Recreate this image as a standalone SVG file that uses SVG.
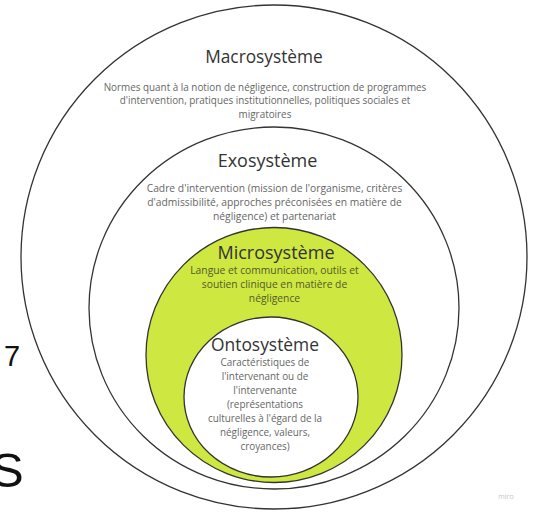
<svg xmlns="http://www.w3.org/2000/svg" width="541" height="512" viewBox="0 0 541 512">
<style>
.ring{fill:#ffffff;stroke:#333333;stroke-width:1.3}
.green{fill:#cee741;stroke:#333333;stroke-width:1.3}
.title{font-family:"Open Sans","DejaVu Sans",sans-serif;fill:#333333;text-anchor:middle}
.body{font-family:"Open Sans","DejaVu Sans",sans-serif;fill:#666666;font-size:9.9px;text-anchor:middle}
.ebody{font-family:"Open Sans","DejaVu Sans",sans-serif;fill:#666666;font-size:10.3px;text-anchor:middle}
.mbody{font-family:"Open Sans","DejaVu Sans",sans-serif;fill:#555a2a;font-size:10.3px;text-anchor:middle}
.bg{font-family:"Liberation Sans",Arial,sans-serif;fill:#111111}
</style>
<rect width="541" height="512" fill="#ffffff"/>
<text class="bg" x="4" y="366" font-size="29">7</text>
<text class="bg" x="-9" y="487" font-size="49">S</text>
<g id="macrosysteme">
<ellipse class="ring" cx="274" cy="257" rx="253" ry="252"/>
<text class="title" x="264" y="63" font-size="17.3">Macrosystème</text>
<text class="body" x="265" y="90.5">Normes quant à la notion de négligence, construction de programmes</text>
<text class="body" x="265" y="104">d'intervention, pratiques institutionnelles, politiques sociales et</text>
<text class="body" x="265" y="117.5">migratoires</text>
</g>
<g id="exosysteme">
<ellipse class="ring" cx="274" cy="308" rx="185" ry="181"/>
<text class="title" x="267.5" y="167" font-size="18">Exosystème</text>
<text class="ebody" x="274.5" y="192">Cadre d'intervention (mission de l'organisme, critères</text>
<text class="ebody" x="274.5" y="206">d'admissibilité, approches préconisées en matière de</text>
<text class="ebody" x="274.5" y="220">négligence) et partenariat</text>
</g>
<g id="microsysteme">
<ellipse class="green" cx="274" cy="355" rx="128" ry="127.5"/>
<text class="title" x="276" y="259" font-size="18" fill="#222222">Microsystème</text>
<text class="mbody" x="274.5" y="274">Langue et communication, outils et</text>
<text class="mbody" x="274.5" y="288">soutien clinique en matière de</text>
<text class="mbody" x="274.5" y="301.5">négligence</text>
</g>
<g id="ontosysteme">
<ellipse class="ring" cx="271" cy="397" rx="87" ry="80"/>
<text class="title" x="265" y="351" font-size="17.4">Ontosystème</text>
<text class="body" x="265" y="366">Caractéristiques de</text>
<text class="body" x="265" y="380">l'intervenant ou de</text>
<text class="body" x="265" y="394">l'intervenante</text>
<text class="body" x="265" y="407.5">(représentations</text>
<text class="body" x="265" y="421.5">culturelles à l'égard de la</text>
<text class="body" x="265" y="435.5">négligence, valeurs,</text>
<text class="body" x="265" y="449.5">croyances)</text>
</g>
<g id="connectors"></g>
<text x="506" y="499" font-family="'Open Sans','DejaVu Sans',sans-serif" font-size="7" fill="#c4c4cc" text-anchor="middle">miro</text>
</svg>
